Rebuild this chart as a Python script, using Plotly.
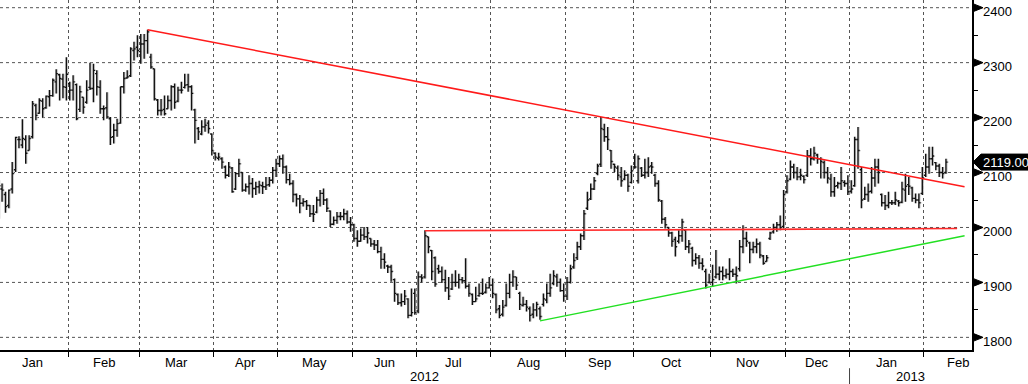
import plotly.graph_objects as go

# ---------------- data ----------------
month_names = ["Jan", "Feb", "Mar", "Apr", "May", "Jun", "Jul", "Aug", "Sep", "Oct", "Nov", "Dec", "Jan", "Feb"]
month_days = [21, 21, 22, 19, 22, 19, 22, 22, 20, 23, 22, 19, 22, 20]   # LME trading days per month
year_labels = ["2012", "2013"]

opens = [
    2030, 2070, 2060, 2040, 2070, 2105, 2160, 2150, 2160, 2140, 2165, 2222, 2208, 2230, 2218, 2238, 2240, 2265, 2278, 2270, 2255,
    2262, 2250, 2260, 2215, 2237, 2228, 2255, 2253, 2280, 2255, 2216, 2218, 2198, 2165, 2177, 2190, 2256, 2272, 2276, 2322, 2328,
    2320, 2334, 2340, 2310, 2289, 2232, 2213, 2215, 2216, 2231, 2256, 2230, 2250, 2255, 2260, 2256, 2214, 2180, 2170, 2183, 2190, 2170,
    2135, 2126, 2125, 2110, 2095, 2108, 2070, 2098, 2100, 2068, 2074, 2080, 2071, 2074, 2076, 2074, 2078, 2086, 2104,
    2116, 2125, 2110, 2087, 2080, 2060, 2052, 2044, 2047, 2040, 2025, 2028, 2050, 2062, 2050, 2030, 2006, 2013, 2020, 2020, 2025, 2010,
    2005, 1980, 1975, 1986, 1983, 1980, 1970, 1968, 1956, 1942, 1930, 1928, 1905, 1878, 1863, 1865, 1870, 1840, 1880,
    1848, 1910, 1910, 1983, 1958, 1945, 1925, 1920, 1905, 1890, 1888, 1900, 1900, 1905, 1903, 1893, 1878, 1865, 1876, 1880, 1882, 1890,
    1895, 1878, 1852, 1842, 1858, 1880, 1900, 1910, 1880, 1858, 1860, 1852, 1842, 1850, 1852, 1860, 1868, 1880, 1898, 1910, 1900, 1885,
    1875, 1900, 1928, 1945, 1965, 1985, 2035, 2052, 2070, 2098, 2115, 2178, 2165, 2140, 2115, 2108, 2092, 2088, 2095, 2082,
    2110, 2085, 2108, 2095, 2100, 2112, 2095, 2080, 2048, 2015, 2000, 1990, 1978, 1975, 1985, 1995, 1965, 1962, 1940, 1945, 1935, 1920, 1900,
    1900, 1910, 1915, 1920, 1912, 1915, 1920, 1915, 1925, 1965, 1980, 1972, 1960, 1965, 1970, 1948, 1938, 1980, 1992, 2000, 2005, 2002,
    2065, 2088, 2110, 2100, 2092, 2093, 2095, 2130, 2125, 2132, 2125, 2118, 2100, 2088, 2065, 2076, 2080, 2082, 2080,
    2066, 2076, 2160, 2105, 2052, 2060, 2066, 2090, 2110, 2060, 2045, 2040, 2045, 2045, 2048, 2046, 2068, 2078, 2072, 2053, 2050, 2062,
    2095, 2110, 2125, 2118, 2112, 2100, 2100,
]
highs = [
    2086, 2080, 2065, 2069, 2119, 2165, 2166, 2197, 2168, 2168, 2230, 2225, 2235, 2235, 2240, 2250, 2271, 2288, 2280, 2280, 2310,
    2265, 2277, 2262, 2258, 2237, 2268, 2300, 2298, 2286, 2268, 2222, 2246, 2201, 2189, 2198, 2256, 2283, 2286, 2328, 2338, 2350,
    2352, 2352, 2360, 2316, 2289, 2234, 2234, 2240, 2240, 2259, 2262, 2256, 2265, 2280, 2280, 2259, 2216, 2183, 2195, 2198, 2195, 2171,
    2137, 2136, 2128, 2113, 2119, 2110, 2101, 2125, 2101, 2080, 2095, 2090, 2083, 2085, 2083, 2092, 2092, 2110, 2125,
    2131, 2133, 2113, 2098, 2086, 2062, 2059, 2053, 2050, 2041, 2041, 2056, 2068, 2071, 2053, 2031, 2020, 2028, 2028, 2034, 2031, 2019,
    2007, 1995, 1998, 2001, 2001, 1980, 1977, 1977, 1965, 1953, 1932, 1932, 1907, 1880, 1880, 1886, 1871, 1889, 1889,
    1920, 1915, 1995, 1983, 1959, 1947, 1932, 1929, 1923, 1910, 1916, 1922, 1916, 1910, 1944, 1898, 1880, 1892, 1898, 1907, 1898, 1910,
    1907, 1880, 1859, 1868, 1898, 1916, 1922, 1910, 1883, 1874, 1868, 1856, 1862, 1865, 1856, 1880, 1898, 1916, 1922, 1916, 1907, 1898,
    1910, 1932, 1953, 1974, 1989, 2032, 2065, 2080, 2092, 2116, 2201, 2189, 2183, 2141, 2116, 2113, 2110, 2104, 2098, 2113,
    2134, 2131, 2110, 2125, 2128, 2119, 2098, 2086, 2050, 2019, 2001, 1992, 1983, 1995, 2016, 1995, 1977, 1965, 1953, 1950, 1944, 1925, 1916,
    1932, 1959, 1929, 1929, 1925, 1944, 1925, 1929, 1977, 2004, 1992, 1974, 1974, 1980, 1974, 1950, 1950, 1992, 2007, 2010, 2022, 2068,
    2095, 2122, 2116, 2110, 2107, 2095, 2141, 2144, 2147, 2134, 2128, 2122, 2110, 2098, 2092, 2083, 2110, 2086, 2095,
    2086, 2165, 2183, 2110, 2074, 2080, 2110, 2125, 2125, 2062, 2059, 2065, 2050, 2065, 2050, 2083, 2098, 2092, 2074, 2062, 2062, 2110,
    2134, 2147, 2147, 2119, 2116, 2110, 2125,
]
lows = [
    2016, 2047, 2027, 2035, 2062, 2101, 2144, 2144, 2116, 2140, 2162, 2195, 2207, 2200, 2216, 2220, 2238, 2244, 2231, 2235, 2231,
    2231, 2231, 2195, 2210, 2207, 2225, 2250, 2228, 2240, 2207, 2195, 2198, 2150, 2153, 2165, 2189, 2244, 2271, 2274, 2304, 2310,
    2298, 2307, 2316, 2289, 2231, 2204, 2204, 2204, 2216, 2213, 2216, 2228, 2244, 2253, 2247, 2213, 2153, 2159, 2168, 2174, 2171, 2131,
    2122, 2122, 2107, 2089, 2092, 2063, 2068, 2092, 2065, 2065, 2060, 2054, 2059, 2062, 2061, 2068, 2074, 2080, 2092,
    2110, 2098, 2080, 2077, 2046, 2038, 2026, 2038, 2032, 2019, 2010, 2026, 2038, 2041, 2028, 2001, 2004, 2007, 2013, 2013, 2007, 1992,
    1974, 1965, 1974, 1977, 1971, 1965, 1959, 1953, 1925, 1925, 1917, 1901, 1865, 1859, 1856, 1859, 1835, 1838, 1841,
    1844, 1900, 1907, 1953, 1904, 1892, 1916, 1899, 1883, 1868, 1886, 1892, 1889, 1898, 1889, 1874, 1859, 1865, 1874, 1877, 1880, 1889,
    1871, 1844, 1835, 1838, 1856, 1871, 1892, 1886, 1850, 1856, 1847, 1829, 1835, 1838, 1832, 1856, 1862, 1874, 1895, 1892, 1883, 1865,
    1868, 1898, 1925, 1941, 1959, 1977, 2032, 2050, 2068, 2095, 2110, 2156, 2141, 2107, 2101, 2086, 2074, 2086, 2065, 2080,
    2107, 2080, 2092, 2089, 2092, 2098, 2074, 2047, 2007, 1998, 1983, 1965, 1947, 1971, 1974, 1959, 1953, 1929, 1932, 1925, 1922, 1889, 1898,
    1892, 1907, 1904, 1904, 1907, 1904, 1910, 1898, 1920, 1953, 1965, 1935, 1953, 1953, 1944, 1932, 1938, 1977, 1989, 1992, 1995, 1998,
    2062, 2086, 2089, 2086, 2086, 2080, 2092, 2113, 2122, 2116, 2089, 2089, 2080, 2056, 2056, 2071, 2068, 2074, 2059,
    2062, 2074, 2107, 2035, 2050, 2047, 2062, 2074, 2080, 2038, 2032, 2035, 2041, 2041, 2038, 2044, 2047, 2059, 2047, 2044, 2035, 2059,
    2092, 2098, 2113, 2104, 2092, 2089, 2098,
]
closes = [
    2076, 2068, 2038, 2068, 2098, 2164, 2160, 2162, 2135, 2162, 2225, 2204, 2231, 2216, 2239, 2240, 2268, 2280, 2271, 2256, 2279,
    2250, 2265, 2198, 2247, 2219, 2250, 2253, 2286, 2256, 2216, 2216, 2201, 2164, 2177, 2189, 2256, 2271, 2274, 2325, 2325, 2322,
    2334, 2340, 2356, 2292, 2234, 2213, 2213, 2207, 2231, 2256, 2228, 2250, 2250, 2259, 2256, 2244, 2195, 2174, 2183, 2186, 2180, 2140,
    2128, 2128, 2119, 2095, 2110, 2065, 2098, 2116, 2068, 2074, 2080, 2071, 2074, 2077, 2074, 2077, 2086, 2104, 2116,
    2125, 2110, 2087, 2080, 2060, 2052, 2044, 2047, 2040, 2025, 2024, 2050, 2062, 2050, 2035, 2006, 2013, 2020, 2020, 2025, 2010, 2005,
    1980, 1975, 1986, 1983, 1990, 1970, 1968, 1956, 1942, 1937, 1928, 1920, 1880, 1863, 1865, 1875, 1840, 1845, 1845,
    1910, 1908, 1985, 1965, 1920, 1897, 1920, 1905, 1890, 1875, 1900, 1900, 1905, 1903, 1893, 1880, 1865, 1870, 1880, 1880, 1890, 1895,
    1880, 1850, 1840, 1855, 1880, 1900, 1910, 1895, 1860, 1860, 1855, 1840, 1850, 1860, 1838, 1870, 1880, 1890, 1912, 1900, 1885, 1875,
    1900, 1925, 1940, 1965, 1985, 2025, 2050, 2070, 2085, 2112, 2180, 2165, 2160, 2120, 2110, 2095, 2085, 2095, 2075, 2103,
    2110, 2125, 2095, 2100, 2110, 2110, 2080, 2050, 2015, 2005, 1990, 1975, 1965, 1985, 2010, 1965, 1970, 1940, 1945, 1935, 1930, 1895, 1900,
    1905, 1915, 1920, 1912, 1915, 1920, 1915, 1912, 1965, 1980, 1975, 1960, 1965, 1970, 1950, 1935, 1945, 1990, 2000, 2005, 2000, 2060,
    2085, 2110, 2100, 2092, 2095, 2087, 2130, 2125, 2135, 2125, 2120, 2100, 2090, 2065, 2075, 2080, 2085, 2080, 2065,
    2070, 2160, 2140, 2050, 2060, 2065, 2090, 2110, 2100, 2045, 2040, 2045, 2045, 2050, 2045, 2070, 2075, 2075, 2053, 2050, 2045, 2090,
    2110, 2125, 2130, 2112, 2100, 2098, 2119,
]

# trend lines (trading-day index, price)
resist_x = [44, 285.5]
resist_y = [2360, 2074]
neck_x = [126, 283.3]
neck_y = [1994, 1998]
support_x = [160, 285.5]
support_y = [1830, 1985]

y_ticks = [1800, 1900, 2000, 2100, 2200, 2300, 2400]

# ---------------- figure ----------------
n = len(closes)
xs = list(range(n))

# month boundaries / centres in trading-day index
bounds = []
centres = []
start = 0
for d in month_days:
    bounds.append(start - 0.5)
    centres.append(start + (d - 1) / 2)
    start += d
x_range = [0.40, 287.7]
y_range = [1777, 2414]

FONT = "Liberation Sans"

fig = go.Figure()
# faint shadow of bars
fig.add_trace(go.Ohlc(
    x=[v + 0.3 for v in xs], open=opens, high=highs, low=lows, close=closes,
    increasing=dict(line=dict(color="#c8c8c8", width=1.3)),
    decreasing=dict(line=dict(color="#c8c8c8", width=1.3)),
    tickwidth=0.5, hoverinfo="skip", showlegend=False,
))
fig.add_trace(go.Ohlc(
    x=xs, open=opens, high=highs, low=lows, close=closes,
    increasing=dict(line=dict(color="#111111", width=1.4)),
    decreasing=dict(line=dict(color="#111111", width=1.4)),
    tickwidth=0.5, showlegend=False,
))
fig.add_trace(go.Scatter(x=resist_x, y=resist_y, mode="lines",
                         line=dict(color="#ff1a1a", width=1.5), showlegend=False, hoverinfo="skip"))
fig.add_trace(go.Scatter(x=neck_x, y=neck_y, mode="lines",
                         line=dict(color="#ff2a2a", width=1.6), showlegend=False, hoverinfo="skip"))
fig.add_trace(go.Scatter(x=support_x, y=support_y, mode="lines",
                         line=dict(color="#22e022", width=1.5), showlegend=False, hoverinfo="skip"))

shapes = []
annotations = []

# horizontal dotted grid lines (drawn as shapes so the top one is never dropped)
for t in y_ticks:
    shapes.append(dict(type="line", xref="paper", yref="y", x0=0, x1=1, y0=t, y1=t, layer="below",
                       line=dict(color="#555555", width=1, dash="dot")))

# arrow markers at major y ticks
for t in y_ticks:
    shapes.append(dict(type="path", xref="paper", yref="y", xsizemode="pixel", ysizemode="pixel",
                       xanchor=1, yanchor=t, path="M 1 4 L 11 0 L 1 -4 Z",
                       fillcolor="black", line=dict(color="black", width=1)))

# last price box
last = closes[-1]
shapes.append(dict(type="path", xref="paper", yref="y", xsizemode="pixel", ysizemode="pixel",
                   xanchor=1, yanchor=last, path="M 1 0 L 9 8 L 56 8 L 56 -8 L 9 -8 Z",
                   fillcolor="black", line=dict(color="black", width=1)))
annotations.append(dict(xref="paper", yref="y", x=1, y=last, xshift=9, yshift=0, xanchor="left",
                        yanchor="middle", text=f"{last:.2f}", showarrow=False,
                        font=dict(family=FONT, size=13, color="white")))

# y tick labels as annotations (sit just below their tick, like the reference)
for t in y_ticks:
    annotations.append(dict(xref="paper", yref="y", x=1, y=t, xshift=9, yshift=-4, xanchor="left",
                            yanchor="middle", text=str(t), showarrow=False,
                            font=dict(family=FONT, size=13, color="black")))

# month labels
for name, c in zip(month_names, centres):
    annotations.append(dict(xref="x", yref="paper", x=c, y=0, yshift=-3, yanchor="top",
                            text=name, showarrow=False, font=dict(family=FONT, size=13, color="black")))

# year labels
year_split = bounds[12]
annotations.append(dict(xref="x", yref="paper", x=(x_range[0] + year_split) / 2, y=0, yshift=-17,
                        yanchor="top", text=year_labels[0], showarrow=False,
                        font=dict(family=FONT, size=13, color="black")))
annotations.append(dict(xref="x", yref="paper", x=(year_split + x_range[1]) / 2, y=0, yshift=-17,
                        yanchor="top", text=year_labels[1], showarrow=False,
                        font=dict(family=FONT, size=13, color="black")))
shapes.append(dict(type="line", xref="x", yref="paper", x0=year_split, x1=year_split,
                   y0=-0.052, y1=-0.1, line=dict(color="#444", width=1)))

fig.update_layout(
    width=1028, height=384,
    margin=dict(l=0, r=56, t=0, b=34),
    paper_bgcolor="white", plot_bgcolor="white",
    shapes=shapes, annotations=annotations,
    showlegend=False,
    xaxis=dict(
        range=x_range, tickvals=bounds, ticktext=[""] * len(bounds),
        showgrid=True, gridcolor="#555555", griddash="dot", gridwidth=1,
        ticks="outside", ticklen=5, tickcolor="black",
        showline=True, linecolor="black", linewidth=2,
        zeroline=False, rangeslider=dict(visible=False), fixedrange=True,
    ),
    yaxis=dict(
        side="right", range=y_range, tickvals=y_ticks, showticklabels=False,
        showgrid=False, ticks="", showline=True, linecolor="black", linewidth=1.5,
        zeroline=False, fixedrange=True,
        minor=dict(dtick=50, tick0=1750, ticks="outside", ticklen=4, tickcolor="black", showgrid=False),
    ),
)

fig.write_html("out.html", config={"displayModeBar": False},
               post_script="document.body.style.margin='0px';")
